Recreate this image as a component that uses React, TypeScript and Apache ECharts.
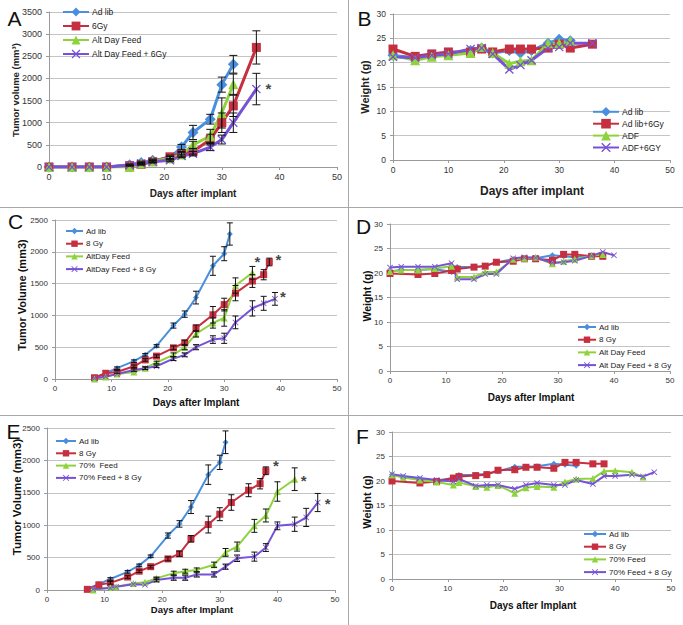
import React, { useEffect, useRef } from 'react';
import * as echarts from 'echarts';

// ---------- colours ----------
const BLUE = '#4A8FDF';
const RED = '#C62F3F';
const GREEN = '#8ED33D';
const PURPLE = '#7652D6';
const X_SYMBOL = 'path://M0,1L1,0L5,4L9,0L10,1L6,5L10,9L9,10L5,6L1,10L0,9L4,5Z';

// ---------- Panel A : tumor volume ----------
const daysA = [0, 4, 7, 10, 14, 16, 18, 21, 23, 25, 28, 30, 32, 36];
const aAdLib = [0, 0, 0, 0, 50, 100, 150, 200, 450, 780, 1080, 1860, 2320];
const aAdLibErr = [null, null, null, null, 20, 30, 30, 40, 60, 160, 110, 170, 200];
const a6Gy = [0, 0, 0, 0, 30, 60, 120, 230, 300, 350, 620, 1000, 1380, 2700];
const a6GyErr = [null, null, null, null, 10, 20, 30, 40, 50, 60, 120, 220, 240, 375];
const aAdf = [0, 0, 0, 0, 0, 80, 130, 200, 280, 500, 700, 1220, 1870];
const aAdfErr = [null, null, null, null, null, 20, 30, 40, 50, 80, 150, 340, 230];
const aAdf6 = [0, 0, 0, 0, 40, 80, 120, 150, 250, 300, 450, 620, 1000, 1760];
const aAdf6Err = [null, null, null, null, 10, 20, 20, 30, 40, 50, 80, 100, 220, 355];

// ---------- Panel B : weight ----------
const daysB = [0, 4, 7, 10, 14, 16, 18, 21, 23, 25, 28, 30, 32, 36];
const bAdLib = [21.5, 21.0, 21.5, 21.8, 22.5, 23.0, 22.0, 22.5, 22.0, 22.5, 24.0, 24.8, 24.5];
const b6Gy = [22.8, 21.3, 21.8, 22.2, 22.2, 22.8, 22.2, 22.8, 22.8, 22.8, 23.0, 23.8, 23.0, 23.8];
const bAdf = [21.5, 20.5, 21.2, 21.5, 22.0, 23.2, 22.0, 19.8, 20.3, 20.5, 24.0, 24.0, 24.5];
const bAdf6 = [21.2, 21.0, 21.5, 21.8, 22.8, 23.0, 21.8, 18.6, 19.5, 20.5, 23.0, 23.2, 24.0, 24.0];

// ---------- Panel C : tumor volume ----------
const cDaysAdLib = [7, 9, 11, 14, 16, 18, 21, 23, 25, 28, 30, 31];
const cAdLib = [20, 90, 170, 280, 380, 520, 840, 1020, 1280, 1780, 1970, 2280];
const cAdLibErr = [null, null, 20, 20, 20, 20, 40, 50, 100, 150, 110, 175];
const cDays8Gy = [7, 9, 11, 14, 16, 18, 21, 23, 25, 28, 30, 32, 35, 37, 38];
const c8Gy = [20, 90, 110, 200, 300, 360, 490, 570, 800, 1010, 1170, 1350, 1540, 1640, 1840];
const c8GyErr = [null, null, 20, 20, 20, 20, 30, 40, 50, 130, 100, 120, 100, 80, 60];
const cDaysAdf = [7, 9, 11, 14, 16, 18, 21, 23, 25, 28, 30, 32, 35];
const cAdf = [0, 30, 80, 110, 170, 260, 380, 500, 710, 880, 960, 1470, 1670];
const cAdfErr = [null, null, null, null, 20, 20, 30, 40, 50, 80, 130, 120, 100];
const cDaysAdf8 = [7, 9, 11, 14, 16, 18, 21, 23, 25, 28, 30, 32, 35, 37, 39];
const cAdf8 = [10, 40, 80, 140, 170, 200, 320, 380, 500, 620, 640, 890, 1110, 1190, 1260];
const cAdf8Err = [null, null, null, 20, 20, 20, 30, 30, 40, 60, 80, 100, 120, 110, 100];

// ---------- Panel D : weight ----------
const dDays = [0, 2, 5, 8, 11, 12, 15, 17, 19, 22, 24, 26, 29, 31, 33, 36, 38];
const dAdLib = [20.3, 20.6, 20.6, 20.8, 20.2, 21.2, 21.2, 21.5, 22.2, 22.8, 23.0, 23.0, 23.6, 23.4, 23.2, 23.6, 23.8];
const dDays8Gy = [0, 5, 8, 11, 12, 15, 17, 19, 22, 24, 26, 29, 31, 33, 36, 38];
const d8Gy = [19.9, 19.7, 19.9, 20.5, 20.8, 21.2, 21.4, 22.2, 22.4, 22.9, 22.9, 22.6, 23.8, 23.8, 23.4, 23.4];
const dAdf = [20.3, 20.6, 20.6, 20.9, 21.4, 19.2, 19.2, 20.2, 20.2, 22.8, 23.0, 23.2, 21.9, 22.4, 22.8, 23.5, 23.8];
const dDaysAdf8 = [0, 2, 5, 8, 11, 12, 15, 17, 19, 22, 24, 26, 29, 31, 33, 36, 38, 40];
const dAdf8 = [21.1, 21.3, 21.3, 21.3, 22.0, 18.7, 18.7, 19.8, 19.8, 23.0, 23.2, 23.1, 22.1, 22.2, 22.5, 23.5, 24.3, 23.6];

// ---------- Panel E : tumor volume ----------
const eDaysAdLib = [7, 9, 11, 14, 16, 18, 21, 23, 25, 28, 30, 31];
const eAdLib = [20, 90, 170, 280, 380, 520, 840, 1020, 1280, 1780, 1970, 2280];
const eAdLibErr = [null, null, 20, 20, 20, 20, 40, 50, 100, 150, 110, 175];
const eDays8Gy = [7, 9, 11, 14, 16, 18, 21, 23, 25, 28, 30, 32, 35, 37, 38];
const e8Gy = [10, 80, 110, 200, 290, 360, 480, 560, 790, 1010, 1170, 1350, 1540, 1640, 1840];
const e8GyErr = [null, null, 20, 20, 20, 20, 30, 40, 50, 130, 100, 120, 100, 80, 60];
const eDays70 = [8, 11, 12, 15, 17, 19, 22, 24, 26, 29, 31, 33, 36, 38, 40, 43];
const e70 = [0, 40, 50, 100, 120, 180, 260, 290, 310, 390, 580, 670, 990, 1150, 1520, 1710];
const e70Err = [null, null, null, null, null, 20, 30, 30, 30, 40, 60, 70, 100, 100, 150, 175];
const eDays708 = [8, 11, 12, 15, 17, 19, 22, 24, 26, 29, 31, 33, 36, 38, 40, 43, 45, 47];
const e708 = [15, 30, 50, 90, 80, 155, 190, 190, 240, 240, 360, 490, 515, 655, 990, 1015, 1120, 1350];
const e708Err = [null, null, null, null, null, 30, 40, 40, 40, 40, 40, 50, 70, 60, 60, 110, 140, 140];

// ---------- Panel F : weight ----------
const fDaysAdLib = [0, 2, 5, 8, 11, 12, 15, 17, 19, 22, 24, 26, 29, 31, 33];
const fAdLib = [21.3, 20.8, 20.4, 20.1, 20.6, 21.2, 21.3, 21.5, 22.0, 22.9, 22.9, 23.0, 23.5, 23.3, 23.1];
const fDays8Gy = [0, 5, 8, 11, 12, 15, 17, 19, 22, 24, 26, 29, 31, 33, 36, 38];
const f8Gy = [20.0, 19.6, 19.9, 20.6, 20.9, 21.1, 21.3, 22.2, 22.3, 22.8, 22.8, 22.6, 23.8, 23.8, 23.5, 23.5];
const fDays70 = [0, 2, 5, 8, 11, 12, 15, 17, 19, 22, 24, 26, 29, 31, 33, 36, 38, 40, 43, 45];
const f70 = [21.2, 20.7, 20.2, 19.8, 19.2, 19.7, 18.9, 18.7, 19.1, 17.5, 18.6, 18.9, 18.7, 19.8, 20.4, 20.5, 22.0, 22.1, 21.8, 20.8];
const fDays708 = [0, 2, 5, 8, 11, 12, 15, 17, 19, 22, 24, 26, 29, 31, 33, 36, 38, 40, 43, 45, 47];
const f708 = [21.4, 21.0, 20.6, 20.2, 19.9, 20.4, 19.0, 19.2, 19.2, 18.4, 19.2, 19.6, 19.2, 19.2, 20.2, 19.4, 21.0, 21.0, 21.3, 20.9, 21.8];

const xTicks = [0, 10, 20, 30, 40, 50];

type Ser = {
  name: string;
  days: number[];
  vals: number[];
  errs?: (number | null)[];
  color: string;
  symbol: string;
  star?: [number, number];
};

type Panel = {
  letter: string;
  grid: { left: number; top: number; width: number; height: number };
  yMax: number;
  yInt: number;
  big: boolean;
  labelSize: number;
  series: Ser[];
  legend: { left: number; top: number; itemWidth: number; itemHeight: number; itemGap: number; fontSize: number };
  xTitle: { text: string; x: number; y: number; size: number };
  yTitle: { text: string; x: number; y: number; size: number };
  letterPos: [number, number];
  titleColor: string;
};

const panels: Panel[] = [
  {
    letter: 'A', grid: { left: 49, top: 12, width: 288, height: 155 }, yMax: 3500, yInt: 500, big: true, labelSize: 9,
    series: [
      { name: 'Ad lib', days: daysA, vals: aAdLib, errs: aAdLibErr, color: BLUE, symbol: 'diamond' },
      { name: '6Gy', days: daysA, vals: a6Gy, errs: a6GyErr, color: RED, symbol: 'rect' },
      { name: 'Alt Day Feed', days: daysA, vals: aAdf, errs: aAdfErr, color: GREEN, symbol: 'triangle' },
      { name: 'Alt Day Feed + 6Gy', days: daysA, vals: aAdf6, errs: aAdf6Err, color: PURPLE, symbol: X_SYMBOL, star: [12, -1] },
    ],
    legend: { left: 62, top: 7.5, itemWidth: 26, itemHeight: 11, itemGap: 5, fontSize: 8.5 },
    xTitle: { text: 'Days after implant', x: 193, y: 193, size: 10 },
    yTitle: { text: 'Tumor volume (mm³)', x: 15, y: 90, size: 9.5 },
    letterPos: [14.5, 18], titleColor: '#222',
  },
  {
    letter: 'B', grid: { left: 393, top: 14, width: 277, height: 146 }, yMax: 30, yInt: 5, big: true, labelSize: 8.5,
    series: [
      { name: 'Ad lib', days: daysB, vals: bAdLib, color: BLUE, symbol: 'diamond' },
      { name: 'Ad lib+6Gy', days: daysB, vals: b6Gy, color: RED, symbol: 'rect' },
      { name: 'ADF', days: daysB, vals: bAdf, color: GREEN, symbol: 'triangle' },
      { name: 'ADF+6GY', days: daysB, vals: bAdf6, color: PURPLE, symbol: X_SYMBOL },
    ],
    legend: { left: 592, top: 107, itemWidth: 26, itemHeight: 12, itemGap: 2.3, fontSize: 8.5 },
    xTitle: { text: 'Days after implant', x: 532, y: 191, size: 12 },
    yTitle: { text: 'Weight (g)', x: 365, y: 87, size: 11 },
    letterPos: [364.5, 18], titleColor: '#222',
  },
  {
    letter: 'C', grid: { left: 55, top: 220, width: 282, height: 159 }, yMax: 2500, yInt: 500, big: false, labelSize: 8,
    series: [
      { name: 'Ad lib', days: cDaysAdLib, vals: cAdLib, errs: cAdLibErr, color: BLUE, symbol: 'diamond' },
      { name: '8 Gy', days: cDays8Gy, vals: c8Gy, errs: c8GyErr, color: RED, symbol: 'rect', star: [9, -2] },
      { name: 'AltDay Feed', days: cDaysAdf, vals: cAdf, errs: cAdfErr, color: GREEN, symbol: 'triangle', star: [5, -11] },
      { name: 'AltDay Feed + 8 Gy', days: cDaysAdf8, vals: cAdf8, errs: cAdf8Err, color: PURPLE, symbol: X_SYMBOL, star: [8, -2] },
    ],
    legend: { left: 65, top: 227, itemWidth: 17, itemHeight: 8, itemGap: 4.7, fontSize: 8 },
    xTitle: { text: 'Days after Implant', x: 196, y: 402, size: 10 },
    yTitle: { text: 'Tumor Volume (mm3)', x: 22, y: 295, size: 11 },
    letterPos: [15.5, 221], titleColor: '#111',
  },
  {
    letter: 'D', grid: { left: 390, top: 224, width: 280, height: 147 }, yMax: 30, yInt: 5, big: false, labelSize: 8,
    series: [
      { name: 'Ad lib', days: dDays, vals: dAdLib, color: BLUE, symbol: 'diamond' },
      { name: '8 Gy', days: dDays8Gy, vals: d8Gy, color: RED, symbol: 'rect' },
      { name: 'Alt Day Feed', days: dDays, vals: dAdf, color: GREEN, symbol: 'triangle' },
      { name: 'Alt Day Feed + 8 Gy', days: dDaysAdf8, vals: dAdf8, color: PURPLE, symbol: X_SYMBOL },
    ],
    legend: { left: 577, top: 323, itemWidth: 18, itemHeight: 8, itemGap: 4.7, fontSize: 8 },
    xTitle: { text: 'Days after Implant', x: 531, y: 397, size: 10 },
    yTitle: { text: 'Weight (g)', x: 367, y: 296, size: 10.5 },
    letterPos: [363.5, 226], titleColor: '#111',
  },
  {
    letter: 'E', grid: { left: 47, top: 428, width: 288, height: 162 }, yMax: 2500, yInt: 500, big: false, labelSize: 8,
    series: [
      { name: 'Ad lib', days: eDaysAdLib, vals: eAdLib, errs: eAdLibErr, color: BLUE, symbol: 'diamond' },
      { name: '8 Gy', days: eDays8Gy, vals: e8Gy, errs: e8GyErr, color: RED, symbol: 'rect', star: [10, -5] },
      { name: '70%  Feed', days: eDays70, vals: e70, errs: e70Err, color: GREEN, symbol: 'triangle', star: [9, 1] },
      { name: '70% Feed + 8 Gy', days: eDays708, vals: e708, errs: e708Err, color: PURPLE, symbol: X_SYMBOL, star: [10, 1] },
    ],
    legend: { left: 55, top: 437, itemWidth: 20, itemHeight: 8, itemGap: 4.3, fontSize: 8 },
    xTitle: { text: 'Days after Implant', x: 192, y: 609, size: 9.5 },
    yTitle: { text: 'Tumor Volume (mm3)', x: 17, y: 497, size: 11.5 },
    letterPos: [13.5, 431], titleColor: '#111',
  },
  {
    letter: 'F', grid: { left: 392, top: 432, width: 279, height: 147 }, yMax: 30, yInt: 5, big: false, labelSize: 8,
    series: [
      { name: 'Ad lib', days: fDaysAdLib, vals: fAdLib, color: BLUE, symbol: 'diamond' },
      { name: '8 Gy', days: fDays8Gy, vals: f8Gy, color: RED, symbol: 'rect' },
      { name: '70% Feed', days: fDays70, vals: f70, color: GREEN, symbol: 'triangle' },
      { name: '70% Feed + 8 Gy', days: fDays708, vals: f708, color: PURPLE, symbol: X_SYMBOL },
    ],
    legend: { left: 583, top: 530, itemWidth: 22, itemHeight: 8, itemGap: 4.7, fontSize: 8 },
    xTitle: { text: 'Days after Implant', x: 533, y: 605, size: 10 },
    yTitle: { text: 'Weight (g)', x: 367, y: 502, size: 11 },
    letterPos: [362.5, 436], titleColor: '#111',
  },
];

const FONT = '"Liberation Sans", Arial, sans-serif';

function symbolSize(symbol: string, big: boolean): number {
  if (big) {
    if (symbol === 'diamond') return 11;
    if (symbol === 'rect') return 9;
    if (symbol === 'triangle') return 10;
    return 9;
  }
  if (symbol === 'diamond') return 6;
  if (symbol === 'rect') return 7;
  if (symbol === 'triangle') return 7;
  return 6;
}

function buildOption() {
  const grid: any[] = [];
  const xAxis: any[] = [];
  const yAxis: any[] = [];
  const series: any[] = [];
  const legend: any[] = [];
  const graphic: any[] = [];

  panels.forEach((p, pi) => {
    grid.push({ ...p.grid, containLabel: false });
    xAxis.push({
      gridIndex: pi, type: 'value', min: xTicks[0], max: xTicks[xTicks.length - 1], interval: 10,
      axisLine: { show: true, lineStyle: { color: '#9a9a9a', width: 1 } },
      axisTick: { show: true, length: 3, lineStyle: { color: '#9a9a9a' } },
      axisLabel: { fontSize: p.labelSize, color: '#333', margin: 5, fontFamily: FONT, formatter: (v: number) => String(v) },
      splitLine: { show: false },
    });
    yAxis.push({
      gridIndex: pi, type: 'value', min: 0, max: p.yMax, interval: p.yInt,
      axisLine: { show: true, lineStyle: { color: '#9a9a9a', width: 1 } },
      axisTick: { show: true, length: 3, lineStyle: { color: '#9a9a9a' } },
      axisLabel: { fontSize: p.labelSize, color: '#333', margin: 7, fontFamily: FONT, formatter: (v: number) => String(v) },
      splitLine: { show: true, lineStyle: { color: '#c4c4c4', width: 1 } },
    });

    const names: string[] = [];
    p.series.forEach((s) => {
      const sname = s.name + '#' + pi;
      names.push(sname);
      const data = s.vals.map((v, i) => [s.days[i], v]);
      series.push({
        type: 'line', name: sname, xAxisIndex: pi, yAxisIndex: pi, data,
        symbol: s.symbol, symbolSize: symbolSize(s.symbol, p.big), showSymbol: true,
        lineStyle: { color: s.color, width: p.big ? 3 : 2 },
        itemStyle: { color: s.color },
        z: 2, silent: true,
      });
      if (s.errs) {
        const rows: number[][] = [];
        s.errs.forEach((e, i) => {
          if (e != null && e > 0) rows.push([s.days[i], s.vals[i] - e, s.vals[i] + e]);
        });
        const cap = p.big ? 4 : 3;
        series.push({
          type: 'custom', name: 'err' + sname, xAxisIndex: pi, yAxisIndex: pi, data: rows, z: 3, silent: true,
          encode: { x: 0, y: [1, 2] },
          renderItem: (_params: any, api: any) => {
            const x = api.value(0);
            const a = api.coord([x, api.value(1)]);
            const b = api.coord([x, api.value(2)]);
            const st = { stroke: '#111', lineWidth: 1 };
            return {
              type: 'group',
              children: [
                { type: 'line', shape: { x1: a[0], y1: a[1], x2: b[0], y2: b[1] }, style: st },
                { type: 'line', shape: { x1: a[0] - cap, y1: a[1], x2: a[0] + cap, y2: a[1] }, style: st },
                { type: 'line', shape: { x1: b[0] - cap, y1: b[1], x2: b[0] + cap, y2: b[1] }, style: st },
              ],
            };
          },
        });
      }
      if (s.star) {
        const last = data[data.length - 1];
        series.push({
          type: 'scatter', name: 'star' + sname, xAxisIndex: pi, yAxisIndex: pi, silent: true,
          data: [last], symbol: 'circle', symbolSize: 2, itemStyle: { color: 'rgba(0,0,0,0)' }, z: 4,
          label: {
            show: true, formatter: '*', position: 'inside', offset: s.star,
            fontSize: 15, fontWeight: 'bold', color: '#111', fontFamily: FONT,
          },
        });
      }
    });

    legend.push({
      orient: 'vertical', left: p.legend.left, top: p.legend.top, padding: 0,
      itemWidth: p.legend.itemWidth, itemHeight: p.legend.itemHeight, itemGap: p.legend.itemGap,
      data: names, selectedMode: false,
      formatter: (n: string) => n.split('#')[0],
      textStyle: { fontSize: p.legend.fontSize, color: '#222', fontFamily: FONT, padding: [0, 0, 0, -2] },
    });

    graphic.push({
      type: 'text', x: p.letterPos[0], y: p.letterPos[1], silent: true,
      style: { text: p.letter, fontSize: 21, fontFamily: FONT, fill: '#111', align: 'center', verticalAlign: 'middle' },
    });
    graphic.push({
      type: 'text', x: p.xTitle.x, y: p.xTitle.y, silent: true,
      style: { text: p.xTitle.text, fontSize: p.xTitle.size, fontWeight: 'bold', fontFamily: FONT, fill: p.titleColor, align: 'center', verticalAlign: 'middle' },
    });
    graphic.push({
      type: 'text', x: p.yTitle.x, y: p.yTitle.y, rotation: Math.PI / 2, silent: true,
      style: { text: p.yTitle.text, fontSize: p.yTitle.size, fontWeight: 'bold', fontFamily: FONT, fill: p.titleColor, align: 'center', verticalAlign: 'middle' },
    });
  });

  // panel separators
  const sep = { stroke: '#a8a8a8', lineWidth: 1 };
  graphic.push({ type: 'line', silent: true, shape: { x1: 348.5, y1: 0, x2: 348.5, y2: 625 }, style: sep });
  graphic.push({ type: 'line', silent: true, shape: { x1: 0, y1: 207.5, x2: 683, y2: 207.5 }, style: sep });
  graphic.push({ type: 'line', silent: true, shape: { x1: 0, y1: 415.5, x2: 683, y2: 415.5 }, style: sep });

  return {
    animation: false,
    backgroundColor: '#ffffff',
    textStyle: { fontFamily: FONT },
    grid, xAxis, yAxis, series, legend, graphic,
  };
}

export default function App() {
  const ref = useRef<HTMLDivElement>(null);
  useEffect(() => {
    if (!ref.current) return;
    const chart = echarts.init(ref.current, undefined, { renderer: 'svg' });
    chart.setOption(buildOption() as any);
    return () => chart.dispose();
  }, []);
  return (
    <div
      ref={ref}
      style={{ position: 'fixed', left: 0, top: 0, width: 683, height: 625, background: '#fff' }}
    />
  );
}
